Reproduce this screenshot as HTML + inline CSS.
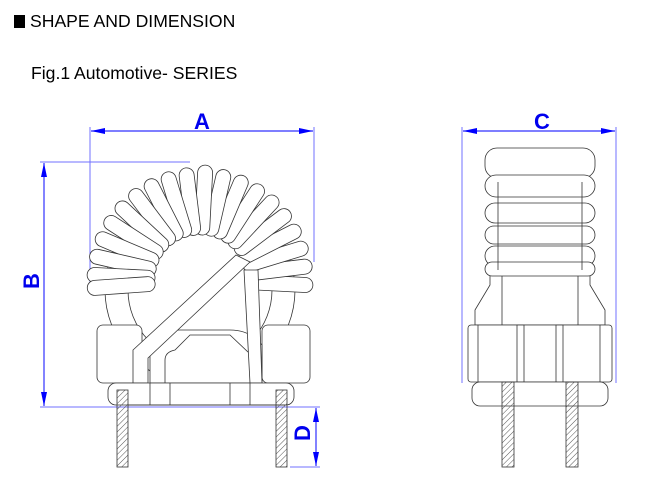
<!DOCTYPE html>
<html><head><meta charset="utf-8"><style>
html,body{margin:0;padding:0;background:#fff;}
body{width:658px;height:491px;overflow:hidden;position:relative;font-family:"Liberation Sans",sans-serif;}
.t{position:absolute;font-size:17.6px;color:#000;white-space:nowrap;}
</style></head><body>
<div style="position:absolute;left:14px;top:15px;width:11px;height:13px;background:#000"></div>
<div class="t" style="left:30px;top:11px">SHAPE AND DIMENSION</div>
<div class="t" style="left:31px;top:63px">Fig.1 Automotive- SERIES</div>
<svg width="658" height="491" style="position:absolute;left:0;top:0" xmlns="http://www.w3.org/2000/svg">
<defs>
<pattern id="h" width="4" height="4" patternUnits="userSpaceOnUse" patternTransform="rotate(45)">
<line x1="0" y1="0" x2="0" y2="4" stroke="#555" stroke-width="1"/></pattern>
<marker id="ar" markerWidth="14" markerHeight="8" refX="14" refY="4" orient="auto" markerUnits="userSpaceOnUse">
<path d="M0,1 L14,4 L0,7 Z" fill="#00f"/></marker>
</defs>
<g stroke="#7070ff" stroke-width="1" fill="none">
<line x1="90" y1="127" x2="90" y2="287"/>
<line x1="314" y1="127" x2="314" y2="262"/>
<line x1="40" y1="162" x2="190" y2="162"/>
<line x1="40" y1="407" x2="320" y2="407"/>
<line x1="290" y1="467" x2="320" y2="467"/>
<line x1="462" y1="127" x2="462" y2="383"/>
<line x1="616" y1="127" x2="616" y2="383"/>
</g>
<g stroke="#3030ff" stroke-width="1.2" fill="none">
<line x1="202" y1="131" x2="91" y2="131" marker-end="url(#ar)"/>
<line x1="202" y1="131" x2="313" y2="131" marker-end="url(#ar)"/>
<line x1="44" y1="285" x2="44" y2="163" marker-end="url(#ar)"/>
<line x1="44" y1="285" x2="44" y2="406" marker-end="url(#ar)"/>
<line x1="316" y1="437" x2="316" y2="408" marker-end="url(#ar)"/>
<line x1="316" y1="437" x2="316" y2="466" marker-end="url(#ar)"/>
<line x1="539" y1="131" x2="463" y2="131" marker-end="url(#ar)"/>
<line x1="539" y1="131" x2="615" y2="131" marker-end="url(#ar)"/>
</g>
<g fill="#0000ee" font-family="Liberation Sans" font-weight="bold" font-size="22" text-anchor="middle">
<text x="202" y="129">A</text>
<text x="542" y="129">C</text>
<text transform="translate(39,281) rotate(-90)">B</text>
<text transform="translate(310,433) rotate(-90)">D</text>
</g>
<g stroke="#333" stroke-width="0.8" fill="#fff">
<circle cx="200" cy="290" r="95" fill="none"/>
<circle cx="200" cy="290" r="72" fill="none"/>
<g>
<rect x="245" y="272" width="68" height="15" rx="7.5" transform="rotate(3 200 280)"/>
<rect x="245" y="272" width="68" height="15" rx="7.5" transform="rotate(-7 200 280)"/>
<rect x="245" y="272" width="68" height="15" rx="7.5" transform="rotate(-17 200 280)"/>
<rect x="245" y="272" width="68" height="15" rx="7.5" transform="rotate(-27 200 280)"/>
<rect x="245" y="272" width="68" height="15" rx="7.5" transform="rotate(-37 200 280)"/>
<rect x="245" y="272" width="68" height="15" rx="7.5" transform="rotate(-47 200 280)"/>
<rect x="245" y="272" width="68" height="15" rx="7.5" transform="rotate(-57 200 280)"/>
<rect x="245" y="272" width="68" height="15" rx="7.5" transform="rotate(-67 200 280)"/>
<rect x="245" y="272" width="68" height="15" rx="7.5" transform="rotate(-77 200 280)"/>
<rect x="245" y="272" width="70" height="15" rx="7.5" transform="rotate(-87 200 280)"/>
<rect x="245" y="272" width="68" height="15" rx="7.5" transform="rotate(-97 200 280)"/>
<rect x="245" y="272" width="68" height="15" rx="7.5" transform="rotate(-107 200 280)"/>
<rect x="245" y="272" width="68" height="15" rx="7.5" transform="rotate(-117 200 280)"/>
<rect x="245" y="272" width="68" height="15" rx="7.5" transform="rotate(-127 200 280)"/>
<rect x="245" y="272" width="68" height="15" rx="7.5" transform="rotate(-137 200 280)"/>
<rect x="245" y="272" width="68" height="15" rx="7.5" transform="rotate(-147 200 280)"/>
<rect x="245" y="272" width="68" height="15" rx="7.5" transform="rotate(-157 200 280)"/>
<rect x="245" y="272" width="68" height="15" rx="7.5" transform="rotate(-167 200 280)"/>
<rect x="245" y="272" width="68" height="15" rx="7.5" transform="rotate(-177 200 280)"/>
<rect x="245" y="272" width="68" height="15" rx="7.5" transform="rotate(-184 200 280)"/>
</g>
<rect x="97" y="325" width="45" height="58" rx="6"/>
<rect x="262" y="325" width="48" height="58" rx="6"/>
<path d="M150,383 L150,340 Q160,330 180,330 L230,330 Q250,330 262,345 L262,383 Z"/>
<path d="M165,383 L165,360 Q165,352 175,350 L190,335 L230,335 L248,352 Q255,355 255,365 L255,383" fill="none"/>
<path d="M133,383 L133,350 L236,255 L250,262 L148,358 L148,383 Z"/>
<path d="M244,270 L250,383 L262,383 L258,270 Z"/>
<rect x="108" y="383" width="186" height="22" rx="8"/>
<line x1="128" y1="405" x2="285" y2="405"/>
<line x1="150" y1="383" x2="150" y2="405"/><line x1="170" y1="383" x2="170" y2="405"/>
<line x1="230" y1="383" x2="230" y2="405"/><line x1="250" y1="383" x2="250" y2="405"/>
</g>
<rect x="117" y="390" width="11" height="77" fill="url(#h)" stroke="#333" stroke-width="0.8"/>
<rect x="276" y="390" width="11" height="77" fill="url(#h)" stroke="#333" stroke-width="0.8"/>
<g stroke="#333" stroke-width="0.8" fill="#fff">
<path d="M475,325 L475,310 L490,285 L490,270 L590,270 L590,285 L605,310 L605,325 Z"/>
<rect x="502" y="270" width="76" height="60" fill="none"/>
<rect x="485" y="148" width="110" height="30" rx="12"/>
<rect x="485" y="175" width="110" height="22" rx="11"/>
<rect x="485" y="203" width="110" height="20" rx="10"/>
<rect x="485" y="226" width="110" height="18" rx="9"/>
<rect x="485" y="246" width="110" height="20" rx="10"/>
<rect x="485" y="262" width="110" height="14" rx="7"/>
<line x1="498" y1="182" x2="498" y2="270"/><line x1="582" y1="182" x2="582" y2="270"/>
<rect x="468" y="325" width="144" height="57" rx="3"/>
<line x1="478" y1="325" x2="478" y2="382"/><line x1="600" y1="325" x2="600" y2="382"/>
<rect x="517" y="325" width="7" height="57"/><rect x="556" y="325" width="7" height="57"/>
<rect x="472" y="382" width="136" height="24" rx="8"/>
</g>
<rect x="502" y="382" width="12" height="85" fill="url(#h)" stroke="#333" stroke-width="0.8"/>
<rect x="566" y="382" width="12" height="85" fill="url(#h)" stroke="#333" stroke-width="0.8"/>
</svg>
</body></html>
